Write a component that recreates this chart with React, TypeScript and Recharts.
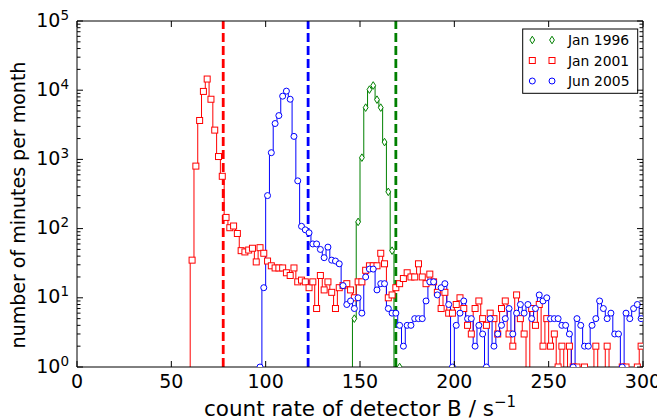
import React from 'react';
import { ComposedChart, Line, XAxis, YAxis, ReferenceLine, Label } from 'recharts';

const FONT = '"DejaVu Sans", "Liberation Sans", sans-serif';

function oddBins(from: number, to: number): number[] {
  const out: number[] = [];
  for (let v = from; v <= to; v += 2) out.push(v);
  return out;
}

// ---- data (minutes per month in each count-rate bin) ----
const bins1996 = oddBins(145, 173);
const counts1996 = [0, 5, 125, 1060, 5600, 10200, 11700, 7300, 5600, 1780, 340, 48, 0, 1, 0];

const bins2001 = oddBins(59, 299);
const counts2001 = [
  0, 35, 800, 3650, 9600, 14500, 7400, 2650, 1100, 570,
  145, 103, 109, 85, 48, 46, 49, 52, 33, 53,
  44, 34, 29, 27, 27, 27, 23, 21, 27, 17,
  18, 17, 14, 17, 7, 21, 13, 17, 12, 7,
  14, 15, 16, 13, 10, 17, 17, 25, 29, 29,
  29, 44, 31, 10, 11, 14, 16, 19, 23, 20,
  20, 31, 20, 16, 22, 17, 12, 7, 12, 6,
  6, 8, 10, 7, 4, 3, 7, 9, 5, 4,
  6, 5, 3, 7, 9, 3, 2, 11, 5, 3,
  0, 7, 4, 8, 2, 5, 2, 3, 1, 2,
  0, 2, 1, 1, 0, 1, 0, 0, 2, 0,
  0, 2, 0, 0, 0, 1, 1, 0, 0, 1,
  2,
];

const bins2005 = oddBins(95, 299);
const counts2005 = [
  0, 1, 14, 300, 1250, 3300, 4300, 8200, 9700, 7400,
  2150, 490, 108, 96, 87, 60, 60, 50, 38, 54,
  35, 34, 31, 15, 8, 9, 7, 10, 6, 20,
  26, 26, 13, 16, 16, 7, 6, 6, 4, 2,
  4, 4, 5, 5, 5, 9, 17, 17, 11, 14,
  16, 8, 1, 4, 6, 9, 5, 5, 2, 4,
  3, 1, 5, 2, 3, 4, 5, 7, 3, 6,
  8, 6, 8, 5, 7, 11, 9, 10, 5, 5,
  5, 4, 4, 3, 1, 5, 4, 2, 2, 4,
  5, 9, 7, 5, 6, 3, 3, 1, 6, 5,
  7, 8, 5,
];

const seriesNames = ['Jan 1996', 'Jan 2001', 'Jun 2005'];
const cutoffs = [169, 77.5, 122.5];

const xTicks = [0, 50, 100, 150, 200, 250, 300];
const yMajorTicks = [1, 10, 100, 1000, 10000, 100000];
const yMinorMultipliers = [2, 3, 4, 5, 6, 7, 8, 9];

const GREEN = '#008000';
const RED = '#ff0000';
const BLUE = '#0000ff';

// ---- helpers ----
const FLOOR = 1e-3; // stand-in for empty bins on the log axis (drawn below the plot and clipped)
const toPoints = (bins: number[], counts: number[]) =>
  bins.map((x, i) => ({ x, count: counts[i], y: counts[i] > 0 ? counts[i] : FLOOR }));

const data1996 = toPoints(bins1996, counts1996);
const data2001 = toPoints(bins2001, counts2001);
const data2005 = toPoints(bins2005, counts2005);

const yMinorTicks: number[] = [];
yMajorTicks.slice(0, -1).forEach((d) => yMinorMultipliers.forEach((m) => yMinorTicks.push(d * m)));
const yAllTicks = [...yMajorTicks, ...yMinorTicks].sort((a, b) => a - b);

const MAJOR = 6;
const MINOR = 3.5;

type Shape = 'd' | 's' | 'o';

const Marker = ({ shape, color, cx, cy }: { shape: Shape; color: string; cx: number; cy: number }) => {
  if (shape === 's')
    return <rect x={cx - 3} y={cy - 3} width={6} height={6} fill="#fff" stroke={color} strokeWidth={1} />;
  if (shape === 'o') return <circle cx={cx} cy={cy} r={3} fill="#fff" stroke={color} strokeWidth={1} />;
  return (
    <polygon
      points={`${cx},${cy - 3.8} ${cx + 2.4},${cy} ${cx},${cy + 3.8} ${cx - 2.4},${cy}`}
      fill="#fff"
      stroke={color}
      strokeWidth={1}
    />
  );
};

const makeDot = (shape: Shape, color: string) => (p: any) => {
  const { cx, cy, payload, index } = p;
  const k = `${shape}-${index}`;
  if (!payload || payload.count <= 0 || !Number.isFinite(cx) || !Number.isFinite(cy)) return <g key={k} />;
  return (
    <g key={k}>
      <Marker shape={shape} color={color} cx={cx} cy={cy} />
    </g>
  );
};

const BottomTick = (p: any) => {
  const { x, y, payload } = p;
  return (
    <g>
      <line x1={x} x2={x} y1={y} y2={y - MAJOR} stroke="#000" strokeWidth={1} />
      <text x={x} y={y + 21} textAnchor="middle" fontSize={19} fontFamily={FONT} fill="#000">
        {payload.value}
      </text>
    </g>
  );
};

const TopTick = (p: any) => {
  const { x, y } = p;
  return <line x1={x} x2={x} y1={y} y2={y + MAJOR} stroke="#000" strokeWidth={1} />;
};

const LeftTick = (p: any) => {
  const { x, y, payload } = p;
  const v = payload.value;
  const major = yMajorTicks.includes(v);
  return (
    <g>
      <line x1={x} x2={x + (major ? MAJOR : MINOR)} y1={y} y2={y} stroke="#000" strokeWidth={1} />
      {major && (
        <text x={x - 8} y={y + 5.5} textAnchor="end" fontSize={19} fontFamily={FONT} fill="#000">
          10
          <tspan dy={-7} fontSize={13.5}>
            {Math.round(Math.log10(v))}
          </tspan>
        </text>
      )}
    </g>
  );
};

const RightTick = (p: any) => {
  const { x, y, payload } = p;
  const major = yMajorTicks.includes(payload.value);
  return <line x1={x} x2={x - (major ? MAJOR : MINOR)} y1={y} y2={y} stroke="#000" strokeWidth={1} />;
};

const XLabel = (p: any) => {
  const vb = p.viewBox;
  const cx = vb.x + vb.width / 2;
  return (
    <text x={cx} y={vb.y + 49} textAnchor="middle" fontSize={21.5} fontFamily={FONT} fill="#000">
      count rate of detector B / s
      <tspan dy={-9} fontSize={15}>
        −1
      </tspan>
    </text>
  );
};

const YLabel = (p: any) => {
  const vb = p.viewBox;
  const cy = vb.y + vb.height / 2 + 11;
  const x = 17;
  return (
    <text
      x={x}
      y={cy}
      transform={`rotate(-90 ${x} ${cy})`}
      textAnchor="middle"
      fontSize={19}
      fontFamily={FONT}
      fill="#000"
    >
      number of minutes per month
    </text>
  );
};

const legendItems: { shape: Shape; color: string }[] = [
  { shape: 'd', color: GREEN },
  { shape: 's', color: RED },
  { shape: 'o', color: BLUE },
];

const LegendBox = () => (
  <g>
    <rect x={514.7} y={21} width={115} height={64.3} fill="#fff" stroke="#000" strokeWidth={1} />
    {legendItems.map((it, i) => {
      const y = 32 + i * 20.5;
      return (
        <g key={seriesNames[i]}>
          <Marker shape={it.shape} color={it.color} cx={524.3} cy={y} />
          <Marker shape={it.shape} color={it.color} cx={544} cy={y} />
          <text x={560} y={y + 5} fontSize={13.9} fontFamily={FONT} fill="#000">
            {seriesNames[i]}
          </text>
        </g>
      );
    })}
  </g>
);

export default function App() {
  return (
    <ComposedChart width={657} height={412} margin={{ top: 12, right: 21, bottom: 0, left: 0 }}>
      <XAxis
        xAxisId="b"
        dataKey="x"
        type="number"
        domain={[0, 300]}
        allowDataOverflow
        ticks={xTicks}
        interval={0}
        height={53}
        axisLine={{ stroke: '#000', strokeWidth: 1 }}
        tickLine={false}
        tickSize={0}
        tickMargin={0}
        tick={BottomTick}
      >
        <Label content={XLabel} />
      </XAxis>
      <XAxis
        xAxisId="t"
        orientation="top"
        dataKey="x"
        type="number"
        domain={[0, 300]}
        allowDataOverflow
        ticks={xTicks}
        interval={0}
        height={1}
        axisLine={{ stroke: '#000', strokeWidth: 1 }}
        tickLine={false}
        tickSize={0}
        tickMargin={0}
        tick={TopTick}
      />
      <YAxis
        yAxisId="l"
        type="number"
        scale="log"
        domain={[1, 100000]}
        allowDataOverflow
        ticks={yAllTicks}
        interval={0}
        width={69}
        axisLine={{ stroke: '#000', strokeWidth: 1 }}
        tickLine={false}
        tickSize={0}
        tickMargin={0}
        tick={LeftTick}
      >
        <Label content={YLabel} />
      </YAxis>
      <YAxis
        yAxisId="r"
        orientation="right"
        type="number"
        scale="log"
        domain={[1, 100000]}
        allowDataOverflow
        ticks={yAllTicks}
        interval={0}
        width={1}
        axisLine={{ stroke: '#000', strokeWidth: 1 }}
        tickLine={false}
        tickSize={0}
        tickMargin={0}
        tick={RightTick}
      />
      <ReferenceLine xAxisId="b" yAxisId="l" x={cutoffs[1]} stroke={RED} strokeWidth={2.8} strokeDasharray="9 4" />
      <ReferenceLine xAxisId="b" yAxisId="l" x={cutoffs[2]} stroke={BLUE} strokeWidth={2.8} strokeDasharray="9 4" />
      <ReferenceLine xAxisId="b" yAxisId="l" x={cutoffs[0]} stroke={GREEN} strokeWidth={2.8} strokeDasharray="9 4" />
      <Line
        xAxisId="b"
        yAxisId="l"
        data={data1996}
        dataKey="y"
        name={seriesNames[0]}
        type="step"
        stroke={GREEN}
        strokeWidth={1}
        dot={makeDot('d', GREEN)}
        activeDot={false}
        isAnimationActive={false}
      />
      <Line
        xAxisId="b"
        yAxisId="l"
        data={data2001}
        dataKey="y"
        name={seriesNames[1]}
        type="step"
        stroke={RED}
        strokeWidth={1}
        dot={makeDot('s', RED)}
        activeDot={false}
        isAnimationActive={false}
      />
      <Line
        xAxisId="b"
        yAxisId="l"
        data={data2005}
        dataKey="y"
        name={seriesNames[2]}
        type="step"
        stroke={BLUE}
        strokeWidth={1}
        dot={makeDot('o', BLUE)}
        activeDot={false}
        isAnimationActive={false}
      />
      <LegendBox />
    </ComposedChart>
  );
}
